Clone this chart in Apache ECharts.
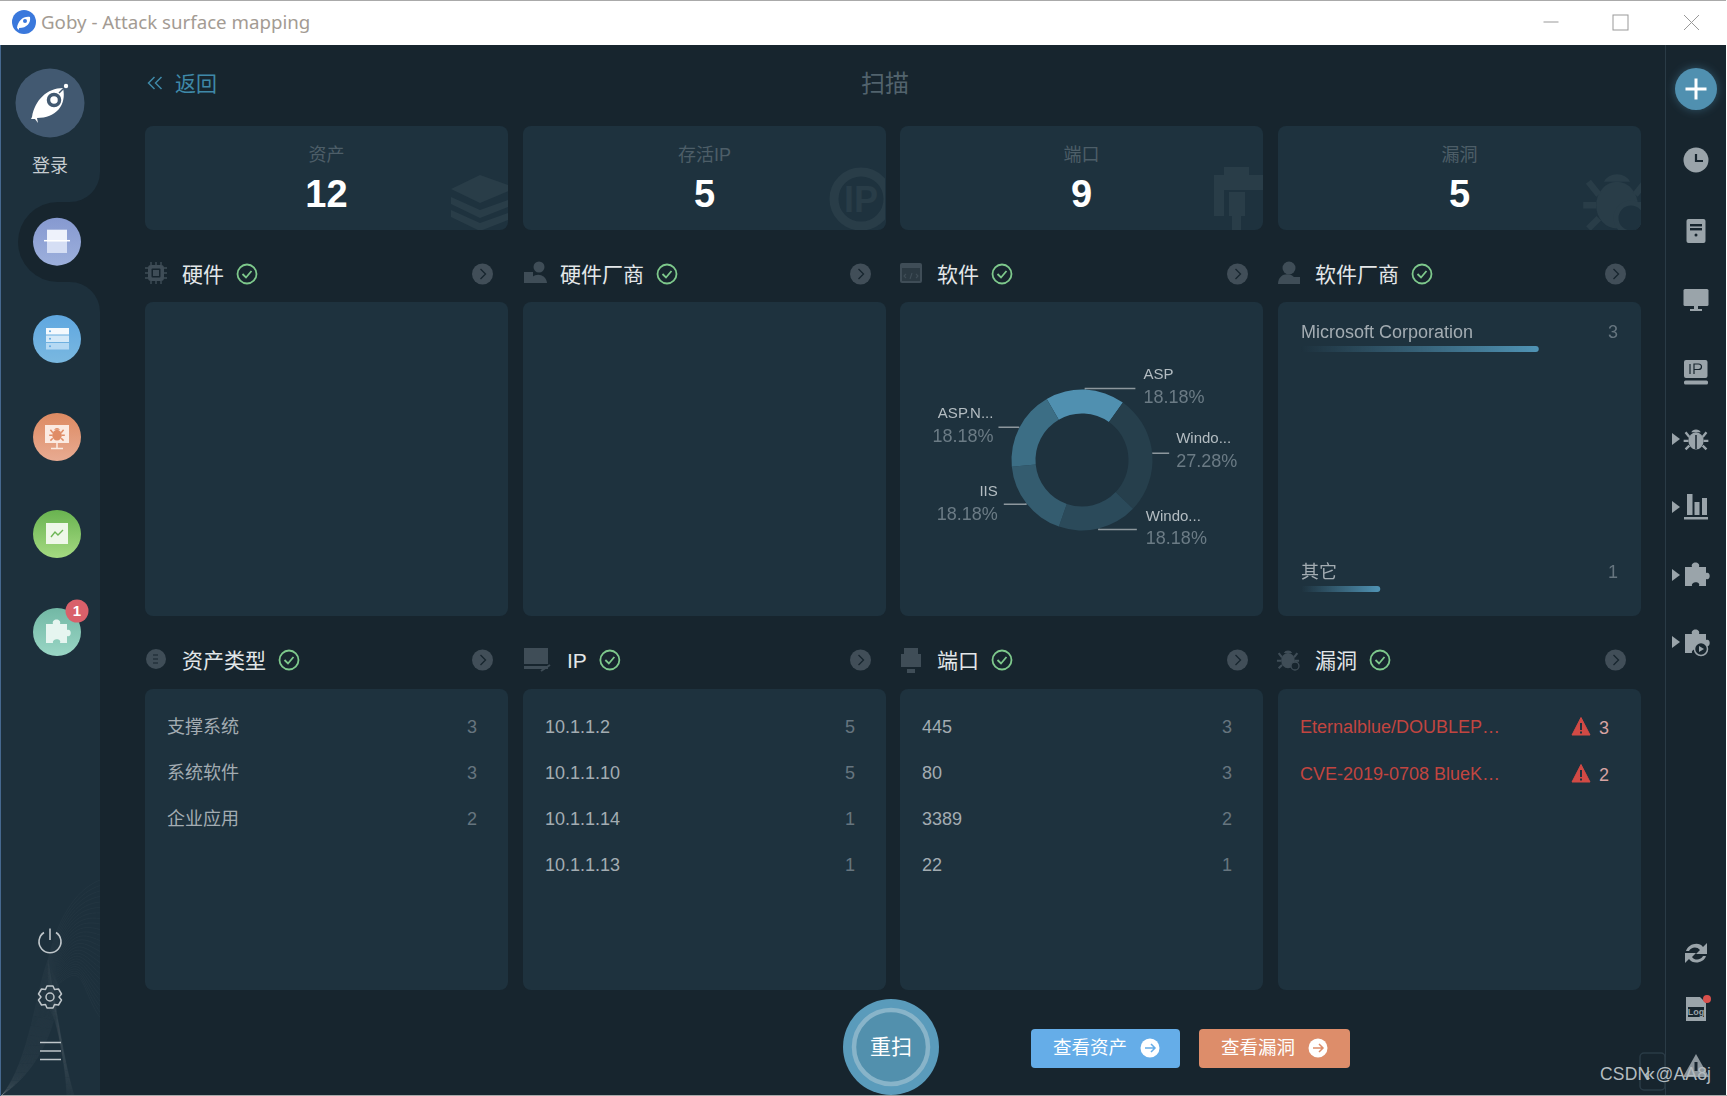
<!DOCTYPE html>
<html>
<head>
<meta charset="utf-8">
<title>Goby - Attack surface mapping</title>
<script src="https://cdn.jsdelivr.net/npm/echarts@6/dist/echarts.min.js"></script>
<style>
html, body { margin: 0; padding: 0; background: #17252e; overflow: hidden; }
body { width: 1727px; height: 1096px; position: relative; font-family: "Liberation Sans", "Noto Sans CJK SC", sans-serif; }
#bg, #chart { position: absolute; left: 0; top: 0; width: 1727px; height: 1096px; }
#chart { pointer-events: none; }
.t { position: absolute; white-space: nowrap; line-height: 30px; height: 30px; }
.card { position: absolute; background: #1e323e; border-radius: 8px; }
</style>
</head>
<body>
<svg id="bg" width="1727" height="1096" xmlns="http://www.w3.org/2000/svg"></svg>
<div id="texts"></div>
<div id="chart"></div>
<script>
// 顶部统计
var statNames = ['资产', '存活IP', '端口', '漏洞'];
var statValues = [12, 5, 9, 5];
// 分组标题
var sectionsTop = ['硬件', '硬件厂商', '软件', '软件厂商'];
var sectionsBottom = ['资产类型', 'IP', '端口', '漏洞'];
// 软件环形图
var softwareNames = ['ASP', 'Windo...', 'Windo...', 'IIS', 'ASP.N...'];
var softwareShares = [18.18, 27.28, 18.18, 18.18, 18.18];
var softwareColors = ['#5090b0', '#263f4c', '#2b4a5a', '#345c6f', '#3c6e85'];
var softwareLineLen = [50, 16, 38, 22, 20];
var softwareLabelDx = [0, -1, 1, 2, 3];
var softwareLabelDy = [-2, -2, -1, 0, -1];
// 软件厂商
var vendorNames = ['Microsoft Corporation', '其它'];
var vendorCounts = [3, 1];
var vendorAxisMax = 4;
// 列表
var assetTypeNames = ['支撑系统', '系统软件', '企业应用'];
var assetTypeCounts = [3, 3, 2];
var ipNames = ['10.1.1.2', '10.1.1.10', '10.1.1.14', '10.1.1.13'];
var ipCounts = [5, 5, 1, 1];
var portNames = ['445', '80', '3389', '22'];
var portCounts = [3, 3, 2, 1];
var vulnNames = ['Eternalblue/DOUBLEP…', 'CVE-2019-0708 BlueK…'];
var vulnCounts = [3, 2];

var colX = [145, 523, 900, 1278];
var colW = 363;
var svg = '';
var texts = document.getElementById('texts');

function txt(x, y, s, css, anchor) {
	var el = document.createElement('span');
	el.className = 't';
	el.textContent = s;
	var tr = anchor == 'c' ? 'translateX(-50%)' : anchor == 'r' ? 'translateX(-100%)' : '';
	el.style.cssText = 'left:' + x + 'px;top:' + (y - 15) + 'px;transform:' + tr + ';' + css;
	texts.appendChild(el);
	return el;
}
function card(x, y, w, h) {
	var el = document.createElement('div');
	el.className = 'card';
	el.style.cssText = 'left:' + x + 'px;top:' + y + 'px;width:' + w + 'px;height:' + h + 'px;';
	texts.appendChild(el);
}
function at(x, y, inner, fill) {
	svg += '<g transform="translate(' + x + ',' + y + ')" fill="' + (fill || 'none') + '">' + inner + '</g>';
}

var PUZZLE = '<path d="M-11 -8H-4C-6 -14 5 -14 3 -8H10V-2C15 -4 15 6 10 4V11H3C5 6 -5 6 -4 11H-11Z"/>';
function bug(c) {
	return '<ellipse cx="0" cy="2" rx="8" ry="9" fill="' + c + '"/><path d="M-5 -7A5.5 5 0 0 1 5 -7Z" fill="' + c + '"/>' +
		'<path d="M-7 -2L-11 -7M7 -2L11 -7M-8 2H-13M8 2H13M-7 7L-11 11M7 7L11 11" stroke="' + c + '" stroke-width="2.5" fill="none"/>';
}

// 背景
svg += '<rect x="0" y="0" width="1727" height="1096" fill="#17252e"/>';
svg += '<rect x="0" y="0" width="1727" height="45" fill="#fff"/><rect x="0" y="0" width="1727" height="1" fill="#aaa"/>';
svg += '<rect x="1726" y="0" width="1" height="1096" fill="#fff"/><rect x="0" y="1095" width="1727" height="1" fill="#aaa"/>';
svg += '<rect x="0" y="45" width="1" height="1051" fill="#46688f"/>';
svg += '<rect x="1665" y="45" width="1" height="1050" fill="#2a3b46"/>';
svg += '<clipPath id="sc"><path d="M1 45H100V172A30 30 0 0 1 70 202H58A40 40 0 0 0 58 282H70A30 30 0 0 1 100 312V1095H1Z"/></clipPath>';
svg += '<path d="M1 45H100V172A30 30 0 0 1 70 202H58A40 40 0 0 0 58 282H70A30 30 0 0 1 100 312V1095H1Z" fill="#1d303c"/>';
// 左下角波纹
svg += '<g clip-path="url(#sc)" fill="none" stroke="#fff" stroke-opacity="0.025">';
for (var w = 0; w < 26; w++) {
	svg += '<path d="M2 1095C' + (30 + w) + ' 1060 ' + (36 + w) + ' 990 ' + (48 + w * 0.4) + ' ' + (960 + w) + 'C' + (60 + w) + ' ' + (910 + w * 2) + ' 80 ' + (888 + w * 4) + ' 100 ' + (880 + w * 5.5) + '"/>';
	if (w % 2 == 0) svg += '<path d="M48 ' + (960 + w * 2) + 'C56 1010 66 1070 ' + (74 - w * 0.3) + ' 1095"/>';
}
svg += '</g>';

// 标题栏
at(24, 22, '<circle r="12" fill="#3a78dc"/><path d="M-7 6C-6 -1 -1 -6 6 -5C7 1 3 6 -5 6L-5 8Z" fill="#fff"/><circle cx="1" cy="-1" r="2" fill="#3a78dc"/>');
at(1551, 22, '<path d="M-7.5 0H7.5" stroke="#999" stroke-width="1"/>');
at(1620.5, 22.5, '<rect x="-7.5" y="-7.5" width="15" height="15" stroke="#999" stroke-width="1"/>');
at(1691.5, 22.5, '<path d="M-7.5 -7.5L7.5 7.5M7.5 -7.5L-7.5 7.5" stroke="#999" stroke-width="1"/>');
txt(41, 22, 'Goby - Attack surface mapping', 'font-family:\'Noto Sans\';font-size:18.7px;color:#a39b93;');

// 左侧栏
at(50, 103, '<circle r="34.5" fill="#425971"/><path d="M-18 14C-15 -3 -3 -15 13 -15C17 2 6 15 -13 15L-12 20L-15 16L-19 16Z" fill="#fff"/><circle cx="4" cy="-3" r="5.5" fill="#fff" stroke="#425971" stroke-width="3.5"/><path d="M9 -10L15 -16" stroke="#425971" stroke-width="1.5"/><circle cx="16" cy="-17" r="2.2" fill="#fff"/>');
txt(50, 166, '登录', 'font-size:18px;color:#c5cbd0;', 'c');
var navY = [241.7, 339, 437, 534, 632];
var navTop = ['#8699d0', '#5fa7e0', '#dd8a62', '#69b350', '#72b8a5'];
var navBot = ['#9db0dc', '#7ab8e0', '#e8ab92', '#a5da82', '#9ad6c5'];
var defs = '';
for (var n = 0; n < navY.length; n++) {
	defs += '<linearGradient id="ng' + n + '" x1="0" y1="0" x2="0" y2="1"><stop offset="0" stop-color="' + navTop[n] + '"/><stop offset="1" stop-color="' + navBot[n] + '"/></linearGradient>';
}
defs += '<filter id="gl" x="-50%" y="-50%" width="200%" height="200%"><feGaussianBlur stdDeviation="5"/></filter>';
svg += '<defs>' + defs + '</defs>';
for (n = 0; n < navY.length; n++) {
	at(57, navY[n], '<circle r="24" fill="url(#ng' + n + ')"/>');
}
at(57, navY[0], '<rect x="-10" y="-12" width="20" height="23" fill="#eef2fb"/><path d="M-13 -1H13" stroke="#fff" stroke-width="1.5"/><rect x="-10" y="0" width="20" height="11" fill="#d5def4"/>');
at(57, navY[1], '<rect x="-11" y="-11" width="23" height="6.5" fill="#f4f9fd"/><rect x="-11" y="-3.5" width="23" height="6.5" fill="#d4e9f8"/><rect x="-11" y="4" width="23" height="6.5" fill="#b5d9f3"/><circle cx="-7" cy="-7.7" r="1" fill="#5fa7e0"/><circle cx="-7" cy="-0.2" r="1" fill="#5fa7e0"/><circle cx="-7" cy="7.3" r="1" fill="#5fa7e0"/>');
at(57, navY[2], '<rect x="-12" y="-12" width="24" height="18" fill="#fbeae2"/><path d="M0 6V11M-6 11.5H6" stroke="#fbeae2" stroke-width="1.5"/><g transform="translate(0,-3) scale(0.6)">' + bug('#e08c66') + '</g>');
at(57, navY[3], '<rect x="-11" y="-11" width="22" height="21" fill="#eef7e8"/><path d="M-6 3L-2 -2L1 1L6 -4" stroke="#6db655" stroke-width="1.4" fill="none"/>');
at(57, navY[4], PUZZLE, '#e6f5f0');
at(77, 611, '<circle r="11.5" fill="#d9606a"/>');
txt(77, 611, '1', 'font-size:15px;font-weight:bold;color:#fff;', 'c');
at(50, 941, '<path d="M-6 -8.5A11 11 0 1 0 6 -8.5" stroke="#bfc6ca" stroke-width="1.6"/><path d="M0 -12.5V-1" stroke="#bfc6ca" stroke-width="1.6"/>');
at(50, 997, '<path d="M-3 -11H3L4.5 -7.5L8.5 -8L11.5 -3L9 0L11.5 3L8.5 8L4.5 7.5L3 11H-3L-4.5 7.5L-8.5 8L-11.5 3L-9 0L-11.5 -3L-8.5 -8L-4.5 -7.5Z" stroke="#bfc6ca" stroke-width="1.5" stroke-linejoin="round"/><circle r="4" stroke="#bfc6ca" stroke-width="1.5"/>');
at(50.5, 1051, '<path d="M-10.5 -8.5H10.5M-10.5 0H10.5M-10.5 8.5H10.5" stroke="#bfc6ca" stroke-width="1.5"/>');

// 右侧栏
at(1696, 89, '<circle r="21" fill="#5090b0" filter="url(#gl)" opacity="0.45"/><circle r="21" fill="#5090b0"/><path d="M-10.5 0H10.5M0 -10.5V10.5" stroke="#fff" stroke-width="3"/>');
var G = '#9aa4aa';
at(1696, 160, '<circle r="12.5" fill="' + G + '"/><path d="M0 -6V1H7" stroke="#17252e" stroke-width="2.2" fill="none"/>');
at(1696, 231, '<rect x="-9.5" y="-12" width="19" height="24" rx="2" fill="' + G + '"/><rect x="-6" y="-7" width="12" height="2.4" fill="#17252e"/><rect x="-6" y="-3" width="12" height="2.4" fill="#17252e"/><circle cy="4" r="1.5" fill="#17252e"/>');
at(1696, 300, '<rect x="-12.5" y="-11" width="25" height="17" rx="1.5" fill="' + G + '"/><rect x="-2" y="6" width="4" height="3" fill="' + G + '"/><rect x="-6" y="9" width="12" height="2" fill="' + G + '"/>');
at(1696, 372, '<rect x="-12" y="-12" width="23.5" height="18" rx="2" fill="' + G + '"/><rect x="-12" y="8.5" width="24" height="4" rx="1.5" fill="' + G + '"/><path d="M-6 -8V2M-2 2V-8H2.5C6.5 -8 6.5 -2.5 2.5 -2.5H-2" stroke="#17252e" stroke-width="1.2" fill="none"/>');
at(1696, 439, '<g transform="scale(0.95)">' + bug(G) + '</g><path d="M0 -4V10" stroke="#17252e" stroke-width="1.5"/>');
at(1696, 507, '<rect x="-9" y="-13" width="5.5" height="21" fill="' + G + '"/><rect x="-1.5" y="-5" width="5" height="13" fill="' + G + '"/><rect x="6" y="-9" width="5" height="17" fill="' + G + '"/><rect x="-12" y="10" width="24" height="2.5" fill="' + G + '"/>');
at(1696, 575, PUZZLE, G);
at(1696, 642, PUZZLE + '<circle cx="5" cy="7" r="6.5" fill="#17252e" stroke="' + G + '" stroke-width="1.5"/><path d="M3 4V10L8 7Z" fill="' + G + '"/>', G);
var triY = [439, 507, 575, 642];
for (var i = 0; i < triY.length; i++) {
	at(1676, triY[i], '<path d="M-4 -6L4 0L-4 6Z" fill="' + G + '"/>');
}
at(1696, 953, '<path d="M-10 -2C-8 -9 3 -12 7 -6L11 -10V1H0L4 -3C1 -7 -5 -6 -7 -2ZM10 3C8 10 -3 12 -7 6L-11 10V0H0L-4 4C-1 8 5 7 7 3Z" fill="' + G + '"/>');
at(1696, 1009, '<path d="M-10 -12H4L10 -6V12H-10Z" fill="' + G + '"/><rect x="-8" y="-2" width="16" height="10" fill="#17252e"/>');
txt(1696, 1012, 'Log', 'font-size:9px;font-weight:bold;color:#9aa4aa;', 'c');
at(1707, 999, '<circle r="4" fill="#d9504c"/>');
at(1696, 1067, '<path d="M0 -13L13 10H-13Z" fill="#8c969c"/><rect x="-1.5" y="-5" width="3" height="9" fill="#17252e"/>');
at(1652, 1071, '<rect x="-12" y="-18" width="25" height="37" rx="4" stroke="#2a3b46" stroke-width="1.5"/>');

// 顶部
at(155.5, 83, '<path d="M-1 -6L-7 0L-1 6M6 -6L0 0L6 6" stroke="#3f89a8" stroke-width="1.5" fill="none"/>');
txt(175, 84, '返回', 'font-size:21px;color:#3f89a8;');
txt(885, 84, '扫描', 'font-size:24px;color:#52636d;', 'c');

// 统计卡片
for (i = 0; i < 4; i++) {
	card(colX[i], 126, colW, 104);
	txt(colX[i] + colW / 2, 155, statNames[i], 'font-size:18px;color:#4d5e68;', 'c');
	txt(colX[i] + colW / 2, 194, statValues[i], 'font-size:38px;font-weight:bold;color:#fff;', 'c');
}
for (i = 0; i < 4; i++) {
	card(colX[i], 302, colW, 314);
	card(colX[i], 689, colW, 301);
}

// 分组标题
function heading(i, y, name) {
	var left = colX[i] + (name == 'IP' ? 44 : 37);
	var el = txt(left, y + 1, name, 'font-size:21px;color:#e3e7e9;');
	var cx = colX[i] + 337.5;
	var width = el.getBoundingClientRect().width;
	at(left + width + 23, y, '<circle r="9.5" stroke="#7ec98c" stroke-width="1.8"/><path d="M-4.5 0L-1 3.5L4.5 -3" stroke="#7ec98c" stroke-width="1.8"/>');
	at(cx, y, '<circle r="10.5" fill="#414e58"/><path d="M-2 -5L3 0L-2 5" stroke="#17252e" stroke-width="1.3"/>');
}
for (i = 0; i < 4; i++) {
	heading(i, 274, sectionsTop[i]);
	heading(i, 660, sectionsBottom[i]);
}
var S = '#3f4d57';
at(156, 273, '<rect x="-8" y="-8" width="16" height="16" rx="3" fill="' + S + '"/><rect x="-4.5" y="-4.5" width="9" height="9" rx="1" fill="#17252e"/><rect x="-3" y="-3" width="6" height="6" fill="' + S + '"/><path d="M-5 -11V11M0 -11V11M5 -11V11M-11 -5H11M-11 0H11M-11 5H11" stroke="' + S + '" stroke-width="1.4" stroke-dasharray="3 16"/>');
at(535, 273, '<circle cx="4" cy="-6" r="5.5" fill="' + S + '"/><path d="M-5 10C-5 -1 11 -1 12 10Z" fill="' + S + '"/><rect x="-11" y="-1" width="9" height="11" fill="' + S + '"/>');
at(911, 273, '<rect x="-11" y="-10" width="22" height="20" rx="2" fill="' + S + '"/><rect x="-9" y="-5" width="18" height="13" fill="#17252e" opacity="0.5"/><path d="M-5 1L-7 3L-5 5M5 1L7 3L5 5M1 0L-1 6" stroke="' + S + '" stroke-width="1.1"/>');
at(1289, 273, '<circle cy="-5" r="6.5" fill="' + S + '"/><path d="M-11 11C-11 -2 7 -2 8 11Z" fill="' + S + '"/><rect x="2" y="4" width="9" height="7" fill="' + S + '"/>');
at(156, 659, '<circle r="10" fill="' + S + '"/><path d="M-3 -4H2M-3 0H2M-3 4H2" stroke="#17252e" stroke-width="1.2"/>');
at(537, 659, '<rect x="-13" y="-11" width="24" height="16" fill="' + S + '"/><rect x="-13" y="7" width="24" height="3" fill="' + S + '"/><path d="M4 12L13 6" stroke="' + S + '" stroke-width="2"/>');
at(911, 659, '<rect x="-10" y="-5" width="20" height="13" fill="' + S + '"/><rect x="-7" y="-11" width="14" height="6" fill="' + S + '"/><rect x="-4" y="10" width="8" height="4" fill="' + S + '"/>');
at(1288, 659, '<g transform="scale(0.85)">' + bug(S) + '</g><circle cx="7" cy="7" r="4" stroke="' + S + '" stroke-width="1.3" fill="#17252e"/>');

// 列表
var rowY = [727, 773, 819, 865];
function list(i, names, counts) {
	for (var k = 0; k < names.length; k++) {
		txt(colX[i] + 22, rowY[k], names[k], 'font-size:18px;color:#a3acb2;');
		txt(colX[i] + 332, rowY[k], counts[k], 'font-size:18px;color:#66757f;', 'r');
	}
}
list(0, assetTypeNames, assetTypeCounts);
list(1, ipNames, ipCounts);
list(2, portNames, portCounts);
for (i = 0; i < vulnNames.length; i++) {
	var vy = i == 0 ? 727 : 774;
	txt(colX[3] + 22, vy, vulnNames[i], 'font-size:18px;color:#c24540;');
	txt(1599, vy + 1, vulnCounts[i], 'font-size:18px;color:#d7a3a2;');
}

// 底部按钮
at(891, 1047, '<circle r="48" fill="#5a9bbb"/><circle r="37" fill="#5290ad" stroke="#88b4c9" stroke-width="4.5"/>');
txt(891, 1047, '重扫', 'font-size:21px;color:#fff;', 'c');
svg += '<rect x="1031" y="1029" width="149" height="39" rx="4" fill="#65ade8"/><rect x="1199" y="1029" width="151" height="39" rx="4" fill="#dd8d6a"/>';
at(1150, 1048, '<circle r="9.5" fill="#fff"/><path d="M-5 0H5M1 -4L5 0L1 4" stroke="#65ade8" stroke-width="1.5" fill="none"/>');
at(1318, 1048, '<circle r="9.5" fill="#fff"/><path d="M-5 0H5M1 -4L5 0L1 4" stroke="#dd8d6a" stroke-width="1.5" fill="none"/>');
txt(1053, 1048, '查看资产', 'font-size:18.5px;color:#fff;');
txt(1221, 1048, '查看漏洞', 'font-size:18.5px;color:#fff;');
txt(1600, 1074, 'CSDN @AA8j', 'font-size:17.5px;color:#b4bcc0;letter-spacing:0.2px;');
txt(1644, 1073, '«', 'font-size:20px;color:#b4bcc0;');

document.getElementById('bg').innerHTML = svg;

// 卡片上的淡色图标放在卡片之上，裁剪到卡片内
var overlay = document.createElementNS('http://www.w3.org/2000/svg', 'svg');
overlay.setAttribute('width', 1727);
overlay.setAttribute('height', 1096);
overlay.style.cssText = 'position:absolute;left:0;top:0;';
var F = '#293d48';
var warn = '';
for (i = 0; i < vulnNames.length; i++) {
	warn += '<g transform="translate(1581,' + (i == 0 ? 727 : 774) + ')"><path d="M0 -9.5L9 8H-9Z" fill="#d24a45" stroke="#d24a45" stroke-linejoin="round"/><rect x="-1" y="-4" width="2" height="7" fill="#1e323e"/><rect x="-1" y="4.5" width="2" height="2" fill="#1e323e"/></g>';
}
overlay.innerHTML = '<defs><clipPath id="c1"><rect x="145" y="126" width="363" height="104" rx="8"/></clipPath><clipPath id="c2"><rect x="523" y="126" width="362" height="104" rx="8"/></clipPath><clipPath id="c3"><rect x="900" y="126" width="363" height="104" rx="8"/></clipPath><clipPath id="c4"><rect x="1278" y="126" width="363" height="104" rx="8"/></clipPath></defs>' +
	'<g clip-path="url(#c1)" fill="' + F + '"><path d="M480 175L516 188L480 203L451 189Z"/><path d="M451 197L480 210L516 197L516 204L480 218L451 204Z"/><path d="M451 210L480 223L516 210L516 217L480 231L451 217Z"/></g>' +
	'<g clip-path="url(#c2)"><circle cx="861" cy="199" r="27" fill="none" stroke="' + F + '" stroke-width="9"/><text x="861" y="212" text-anchor="middle" font-family="Liberation Sans" font-weight="bold" font-size="36" fill="' + F + '">IP</text></g>' +
	'<g clip-path="url(#c3)" fill="' + F + '"><rect x="1224" y="167" width="25" height="16"/><path d="M1214 175H1280V216H1267V190H1224V216H1214Z"/><rect x="1229" y="192" width="16" height="24"/><rect x="1232" y="216" width="9" height="14"/></g>' +
	'<g clip-path="url(#c4)"><g transform="translate(1617,200) scale(2.6)">' + bug(F) + '</g><circle cx="1631" cy="218" r="15" fill="#1e323e" stroke="' + F + '" stroke-width="5"/></g>' +
	warn;
texts.insertBefore(overlay, texts.children[0]);
// 卡片先于 overlay 绘制
var cards = Array.prototype.slice.call(document.querySelectorAll('.card'));
for (i = cards.length - 1; i >= 0; i--) {
	texts.insertBefore(cards[i], texts.firstChild);
}

var myChart = echarts.init(document.getElementById('chart'));
myChart.setOption({
	backgroundColor: 'transparent',
	animation: false,
	textStyle: { fontFamily: '"Liberation Sans", "Noto Sans CJK SC", sans-serif' },
	grid: { left: 1301, top: 229, width: 317, height: 480 },
	xAxis: { type: 'value', min: 0, max: vendorAxisMax, show: false },
	yAxis: { type: 'category', inverse: true, data: vendorNames, show: false },
	series: [{
		type: 'bar',
		barWidth: 6,
		data: vendorCounts,
		z: 3,
		itemStyle: {
			borderRadius: [0, 3, 3, 0],
			color: new echarts.graphic.LinearGradient(0, 0, 1, 0, [
				{ offset: 0, color: 'rgba(80,144,176,0)' },
				{ offset: 1, color: '#5094b5' }
			])
		},
		label: {
			show: true,
			position: [0, -25],
			formatter: '{b}',
			fontSize: 18,
			lineHeight: 24,
			color: '#a3acb2'
		}
	}, {
		type: 'bar',
		barWidth: 6,
		barGap: '-100%',
		data: vendorNames.map(function() { return vendorAxisMax; }),
		itemStyle: { color: 'transparent' },
		label: {
			show: true,
			position: ['100%', -25],
			align: 'right',
			formatter: function(params) { return vendorCounts[params.dataIndex]; },
			fontSize: 18,
			lineHeight: 24,
			color: '#66757f'
		}
	}, {
		type: 'pie',
		center: [1082, 460],
		radius: [46.5, 70.5],
		startAngle: 120,
		percentPrecision: 2,
		silent: true,
		data: softwareNames.map(function(name, i) {
			return {
				name: name,
				value: softwareShares[i],
				itemStyle: { color: softwareColors[i] },
				labelLine: { length2: softwareLineLen[i] }
			};
		}),
		label: {
			show: true,
			position: 'outside',
			distanceToLabelLine: 8,
			formatter: '{n|{b}}\n{p|{d}%}',
			rich: {
				n: { fontSize: 15, lineHeight: 22, color: '#b4bdc2' },
				p: { fontSize: 18, lineHeight: 24, color: '#6b7b85' }
			}
		},
		labelLayout: function(params) {
			return { dx: softwareLabelDx[params.dataIndex], dy: softwareLabelDy[params.dataIndex] };
		},
		labelLine: { show: true, length: 1, smooth: false, lineStyle: { color: '#8d979d', width: 1.5 } }
	}]
});
</script>
</body>
</html>
